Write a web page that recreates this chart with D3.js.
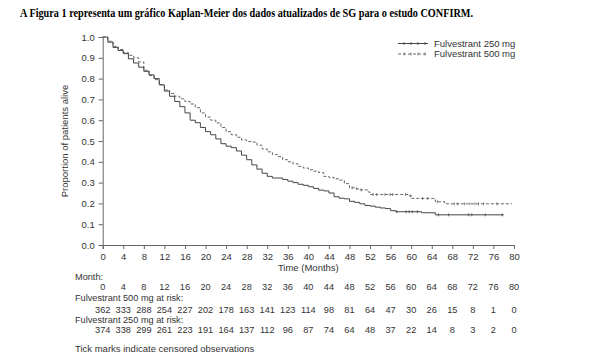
<!DOCTYPE html>
<html><head><meta charset="utf-8">
<script src="https://cdn.jsdelivr.net/npm/d3@7"></script>
<style>
html,body{margin:0;padding:0;background:#fff;}
svg{display:block;}
text{font-family:"Liberation Sans",Arial,sans-serif;fill:#333;}
</style></head>
<body>
<svg id="chart" width="589" height="356"></svg>
<script>
const title = "A Figura 1 representa um gráfico Kaplan-Meier dos dados atualizados de SG para o estudo CONFIRM.";
const months = [0,4,8,12,16,20,24,28,32,36,40,44,48,52,56,60,64,68,72,76,80];
const yTicks = [0,0.1,0.2,0.3,0.4,0.5,0.6,0.7,0.8,0.9,1.0];
const risk500 = [362,333,288,254,227,202,178,163,141,123,114,98,81,64,47,30,26,15,8,1,0];
const risk250 = [374,338,299,261,223,191,164,137,112,96,87,74,64,48,37,22,14,8,3,2,0];
const seriesNames = ["Fulvestrant 250 mg","Fulvestrant 500 mg"];

// Kaplan-Meier estimates (time in months, proportion alive)
const t250 = [0,1,2,3,4,5,6,7,8,9,10,11,12,13,14,15,16,17,18,19,20,21,22,23,24,25,26,27,28,29,30,31,32,33,34,35,36,37,38,39,40,41,42,43,44,45,46,47,48,49,50,51,52,53,54,55,56,57,62,64.7,78];
const s250 = [1.0,0.975,0.95,0.935,0.92,0.895,0.875,0.855,0.835,0.818,0.80,0.77,0.74,0.715,0.69,0.665,0.635,0.60,0.588,0.565,0.545,0.53,0.51,0.487,0.475,0.468,0.452,0.432,0.41,0.385,0.365,0.345,0.33,0.322,0.322,0.315,0.307,0.30,0.292,0.287,0.28,0.272,0.264,0.26,0.25,0.232,0.225,0.222,0.21,0.205,0.198,0.19,0.187,0.182,0.178,0.175,0.165,0.16,0.155,0.145,0.145];
const t500 = [0,1,2,3,4,5,6,7,8,9,10,11,12,13,14,15,16,17,18,19,20,21,22,23,24,25,26,27,28,29,30,31,32,33,34,35,36,37,38,39,40,41,42,43,44,45,46,47,48,49,50,51.5,52,59.5,60.1,64.7,66.5,79.6];
const s500 = [1.0,0.98,0.955,0.94,0.925,0.912,0.9,0.88,0.84,0.815,0.795,0.77,0.745,0.728,0.715,0.703,0.69,0.678,0.66,0.635,0.615,0.60,0.587,0.565,0.545,0.53,0.518,0.505,0.498,0.495,0.48,0.462,0.448,0.435,0.425,0.41,0.40,0.39,0.378,0.37,0.362,0.355,0.348,0.33,0.325,0.318,0.312,0.295,0.275,0.27,0.265,0.255,0.243,0.236,0.224,0.208,0.198,0.198];
const cens250 = [57.2,59.0,59.6,60.2,61.2,65.3,67.3,71.2,71.8,74.4,77.7];
const cens500 = [48.5,49.4,50.3,52.6,53.3,54.9,55.9,56.4,58.9,59.9,62.2,63.2,65.1,68.4,69.1,70.4,71.4,72.4,73.1,74.1,76.7];

const FS = "9.5px";
const FT = "9.2px";
const svg = d3.select("#chart");
const x = d3.scaleLinear().domain([0,80]).range([102.7,514]);
const y = d3.scaleLinear().domain([0,1]).range([245,37]);

// title
svg.append("text").attr("x",20).attr("y",17)
  .attr("textLength",453).attr("lengthAdjust","spacingAndGlyphs")
  .style("font-family","'Liberation Serif','Times New Roman',serif")
  .style("font-weight","bold").style("font-size","11.5px").style("fill","#000")
  .text(title);

// axes
const yAxis = d3.axisLeft(y).tickValues(yTicks).tickFormat(d3.format(".1f")).tickSize(4).tickPadding(4);
const gy = svg.append("g").attr("transform",`translate(${x(0)},0)`).call(yAxis);
const xAxis = d3.axisBottom(x).tickValues(months).tickFormat(d3.format("d")).tickSize(4).tickPadding(4);
const gx = svg.append("g").attr("transform",`translate(0,${y(0)})`).call(xAxis);
[gy,gx].forEach(g=>{
  g.select(".domain").attr("stroke","#666");
  g.selectAll(".tick line").attr("stroke","#666");
  g.selectAll("text").style("font-family","'Liberation Sans',Arial,sans-serif").style("font-size",FS).attr("fill","#333");
});

svg.append("text").attr("transform",`translate(68,${y(0.5)}) rotate(-90)`)
  .attr("text-anchor","middle").style("font-size",FS).text("Proportion of patients alive");
svg.append("text").attr("x",x(40)).attr("y",271).attr("text-anchor","middle")
  .style("font-size",FS).text("Time (Months)");

// curves
const line = d3.line().x(d=>x(d[0])).y(d=>y(d[1])).curve(d3.curveStepAfter);
const d250 = t250.map((t,i)=>[t,s250[i]]);
const d500 = t500.map((t,i)=>[t,s500[i]]);
svg.append("path").datum(d500).attr("d",line).attr("fill","none")
  .attr("stroke","#666").attr("stroke-width",1).attr("stroke-dasharray","3,2");
svg.append("path").datum(d250).attr("d",line).attr("fill","none")
  .attr("stroke","#444").attr("stroke-width",1);

function survAt(ts, ss, t){ let v=ss[0]; for(let i=0;i<ts.length;i++){ if(ts[i]<=t) v=ss[i]; } return v; }
svg.append("g").selectAll("line").data(cens250).join("line")
  .attr("x1",d=>x(d)).attr("x2",d=>x(d))
  .attr("y1",d=>y(survAt(t250,s250,d))-1.5).attr("y2",d=>y(survAt(t250,s250,d))+1.5)
  .attr("stroke","#444").attr("stroke-width",0.8);
svg.append("g").selectAll("line").data(cens500).join("line")
  .attr("x1",d=>x(d)).attr("x2",d=>x(d))
  .attr("y1",d=>y(survAt(t500,s500,d))-1.5).attr("y2",d=>y(survAt(t500,s500,d))+1.5)
  .attr("stroke","#666").attr("stroke-width",0.8);

// legend
const lg = svg.append("g");
const legY = [43.5,54];
seriesNames.forEach((name,i)=>{
  lg.append("line").attr("x1",398).attr("x2",428).attr("y1",legY[i]).attr("y2",legY[i])
    .attr("stroke",i===0?"#444":"#666").attr("stroke-width",1)
    .attr("stroke-dasharray",i===0?null:"3,2");
  [404,411,418,425].forEach(px=>{
    lg.append("line").attr("x1",px).attr("x2",px).attr("y1",legY[i]-1.5).attr("y2",legY[i]+1.5)
      .attr("stroke",i===0?"#444":"#666").attr("stroke-width",0.8);
  });
  lg.append("text").attr("x",434).attr("y",legY[i]+3.2).style("font-size",FS).text(name);
});

// risk table
const rt = svg.append("g").style("font-size",FT);
rt.append("text").attr("x",75).attr("y",280).text("Month:");
rt.selectAll(".m").data(months).join("text").attr("class","m")
  .attr("x",d=>x(d)).attr("y",290.4).attr("text-anchor","middle").text(d=>d);
rt.append("text").attr("x",75).attr("y",300.6).text("Fulvestrant 500 mg at risk:");
rt.selectAll(".r5").data(risk500).join("text").attr("class","r5")
  .attr("x",(d,i)=>x(months[i])).attr("y",312.5).attr("text-anchor","middle").text(d=>d);
rt.append("text").attr("x",75).attr("y",323).text("Fulvestrant 250 mg at risk:");
rt.selectAll(".r2").data(risk250).join("text").attr("class","r2")
  .attr("x",(d,i)=>x(months[i])).attr("y",333.4).attr("text-anchor","middle").text(d=>d);
rt.append("text").attr("x",75).attr("y",351.5).style("font-size",FS).text("Tick marks indicate censored observations");
</script>
</body></html>
